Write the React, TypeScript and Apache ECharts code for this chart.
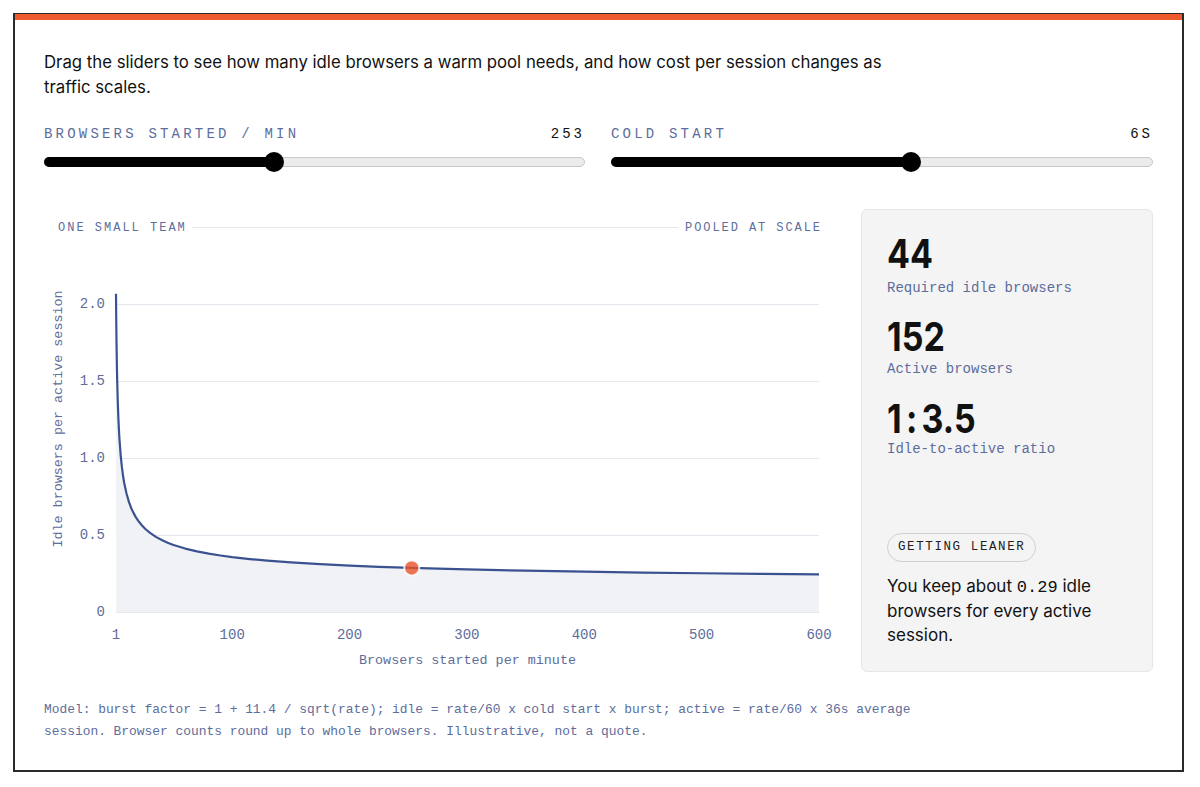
import React, { useEffect, useRef } from "react";
import * as echarts from "echarts";

const rates = [1, 1.1, 1.25, 1.5, 1.75, 2, 2.5, 3, 3.5, 4, 5, 6, 7, 8, 10, 12, 14, 16, 18, 20, 23, 26, 30, 35, 40, 45, 50, 60, 70, 80, 90, 100, 115, 130, 150, 175, 200, 225, 253, 275, 300, 350, 400, 450, 500, 550, 600];
const idlePerActive = [2.067, 1.978, 1.866, 1.718, 1.603, 1.51, 1.368, 1.264, 1.182, 1.117, 1.016, 0.942, 0.885, 0.838, 0.768, 0.715, 0.674, 0.642, 0.6145, 0.592, 0.563, 0.539, 0.514, 0.488, 0.467, 0.45, 0.435, 0.412, 0.394, 0.379, 0.367, 0.3567, 0.3439, 0.3333, 0.3218, 0.3103, 0.301, 0.2933, 0.2861, 0.2812, 0.2764, 0.2682, 0.2617, 0.2562, 0.2516, 0.2477, 0.2442];
const currentPoint = [253, 0.2861];
const xTicks = [1, 100, 200, 300, 400, 500, 600];
const yTicks = [0, 0.5, 1, 1.5, 2];

const MONO = "'Liberation Mono', 'DejaVu Sans Mono', monospace";
const SANS = "Inter, 'Noto Sans', sans-serif";
const SLATE = "#5d6d9c";
const GRIDC = "#e4e7ee";

function Chart() {
  const ref = useRef<HTMLDivElement>(null);
  useEffect(() => {
    const chart = echarts.init(ref.current!, null, { renderer: "svg" });
    chart.setOption({
      animation: false,
      grid: { left: 72, right: 25, top: 93.7, bottom: 78, outerBoundsMode: "none", containLabel: false },
      graphic: [
        {
          type: "text",
          x: 14,
          y: 219,
          rotation: Math.PI / 2,
          style: { text: "Idle browsers per active session", fill: SLATE, font: `13.4px ${MONO}`, align: "center", verticalAlign: "middle" },
        },
      ],
      xAxis: {
        type: "value",
        min: 1,
        max: 600,
        name: "Browsers started per minute",
        nameLocation: "middle",
        nameGap: 42,
        nameTextStyle: { color: SLATE, fontFamily: MONO, fontSize: 13.4 },
        axisLine: { show: true, lineStyle: { color: GRIDC } },
        axisTick: { show: false },
        splitLine: { show: false },
        axisLabel: { customValues: xTicks, color: SLATE, fontFamily: MONO, fontSize: 14, margin: 16 },
      },
      yAxis: {
        type: "value",
        min: 0,
        max: 2.067,
        axisLine: { show: false },
        axisTick: { show: false, customValues: yTicks },
        splitLine: { show: true, lineStyle: { color: GRIDC } },
        axisLabel: {
          customValues: yTicks,
          color: SLATE,
          fontFamily: MONO,
          fontSize: 14,
          margin: 11,
          formatter: (v: number) => (v === 0 ? "0" : v.toFixed(1)),
        },
      },
      series: [
        {
          type: "line",
          data: rates.map((r, i) => [r, idlePerActive[i]]),
          showSymbol: false,
          smooth: false,
          lineStyle: { color: "#3b5290", width: 2.2, join: "round" },
          areaStyle: { color: "#f0f2f6", opacity: 1 },
          z: 2,
        },
        {
          type: "scatter",
          data: [currentPoint],
          symbolSize: 15,
          itemStyle: { color: "#e8532a", borderColor: "#ffffff", borderWidth: 2 },
          z: 3,
        },
      ],
    });
    return () => chart.dispose();
  }, []);
  return <div ref={ref} style={{ position: "absolute", left: 44, top: 200, width: 800, height: 490 }} />;
}

function Slider({ left, width, frac, label, value }: { left: number; width: number; frac: number; label: string; value: string }) {
  const thumbX = width * frac;
  return (
    <>
      <div style={{ position: "absolute", left, top: 126, fontFamily: MONO, fontSize: 14, letterSpacing: 3.2, color: SLATE, whiteSpace: "nowrap" }}>{label}</div>
      <div style={{ position: "absolute", left: left + width - 100, width: 100, textAlign: "right", top: 126, fontFamily: MONO, fontSize: 14, letterSpacing: 3, color: "#111", marginRight: -3 }}>{value}</div>
      <div style={{ position: "absolute", left, top: 157, width, height: 10, borderRadius: 5, background: "#ececec", border: "1px solid #c8c8c8", boxSizing: "border-box" }} />
      <div style={{ position: "absolute", left, top: 157, width: thumbX, height: 10, borderRadius: 5, background: "#000" }} />
      <div style={{ position: "absolute", left: left + thumbX - 10, top: 152, width: 20, height: 20, borderRadius: 10, background: "#000" }} />
    </>
  );
}

const bigNum: React.CSSProperties = {
  position: "absolute",
  left: 25,
  fontFamily: SANS,
  fontWeight: 700,
  fontSize: 40,
  lineHeight: "40px",
  color: "#111",
  transform: "scaleX(0.85)",
  transformOrigin: "left center",
  whiteSpace: "nowrap",
};
const statLabel: React.CSSProperties = { position: "absolute", left: 25, fontFamily: MONO, fontSize: 14, color: SLATE, whiteSpace: "nowrap" };
const bodyLine: React.CSSProperties = { position: "absolute", left: 25, fontFamily: SANS, fontSize: 17, lineHeight: "24px", color: "#111", whiteSpace: "nowrap" };

export default function App() {
  return (
    <div style={{ position: "fixed", left: 0, top: 0, width: 1200, height: 787, background: "#fff", overflow: "hidden" }}>
      <div style={{ position: "absolute", left: 13, top: 13, width: 1171, height: 759, border: "2px solid #2a2a2a", boxSizing: "border-box" }} />
      <div style={{ position: "absolute", left: 15, top: 14, width: 1167, height: 6, background: "#ee5a2b" }} />
      <div style={{ position: "absolute", left: 44, top: 50, fontFamily: SANS, fontSize: 16.75, lineHeight: "25px", color: "#111", whiteSpace: "nowrap" }}>
        Drag the sliders to see how many idle browsers a warm pool needs, and how cost per session changes as
        <br />
        traffic scales.
      </div>
      <Slider left={44} width={541} frac={(274 - 44) / 541} label="BROWSERS STARTED / MIN" value="253" />
      <Slider left={611} width={542} frac={(911 - 611) / 542} label="COLD START" value="6S" />
      <Chart />
      <div style={{ position: "absolute", left: 58, top: 220, fontFamily: MONO, fontSize: 12, lineHeight: "16px", letterSpacing: 2, color: SLATE, whiteSpace: "nowrap" }}>ONE SMALL TEAM</div>
      <div style={{ position: "absolute", left: 192, top: 227, width: 486, height: 1, background: GRIDC }} />
      <div style={{ position: "absolute", left: 622, width: 200, textAlign: "right", top: 220, fontFamily: MONO, fontSize: 12, lineHeight: "16px", letterSpacing: 1.93, color: SLATE, whiteSpace: "nowrap" }}>POOLED AT SCALE</div>
      <div style={{ position: "absolute", left: 861, top: 209, width: 292, height: 463, background: "#f4f4f4", border: "1px solid #e6e6e6", borderRadius: 6, boxSizing: "border-box" }}>
        <div style={{ ...bigNum, top: 23.5 }}>44</div>
        <div style={{ ...statLabel, top: 70 }}>Required idle browsers</div>
        <div style={{ ...bigNum, top: 106.5 }}>152</div>
        <div style={{ ...statLabel, top: 151 }}>Active browsers</div>
        <div style={{ ...bigNum, top: 188.5 }}>
          1<span style={{ margin: "0 5px" }}>:</span>3.5
        </div>
        <div style={{ ...statLabel, top: 231 }}>Idle-to-active ratio</div>
        <div style={{ position: "absolute", left: 25, top: 323, height: 29, padding: "0 10px", border: "1.5px solid #cfcfcf", borderRadius: 15, fontFamily: MONO, fontSize: 12.5, letterSpacing: 1.6, lineHeight: "26px", color: "#222", boxSizing: "border-box", whiteSpace: "nowrap" }}>GETTING LEANER</div>
        <div style={{ ...bodyLine, top: 364 }}>
          <span>You keep about </span>
          <span style={{ fontFamily: MONO }}>0.29</span>
          <span> idle</span>
        </div>
        <div style={{ ...bodyLine, top: 388.5 }}>browsers for every active</div>
        <div style={{ ...bodyLine, top: 413 }}>session.</div>
      </div>
      <div style={{ position: "absolute", left: 44, top: 699, fontFamily: MONO, fontSize: 12.9, lineHeight: "22px", color: SLATE, whiteSpace: "nowrap" }}>
        Model: burst factor = 1 + 11.4 / sqrt(rate); idle = rate/60 x cold start x burst; active = rate/60 x 36s average
        <br />
        session. Browser counts round up to whole browsers. Illustrative, not a quote.
      </div>
    </div>
  );
}
